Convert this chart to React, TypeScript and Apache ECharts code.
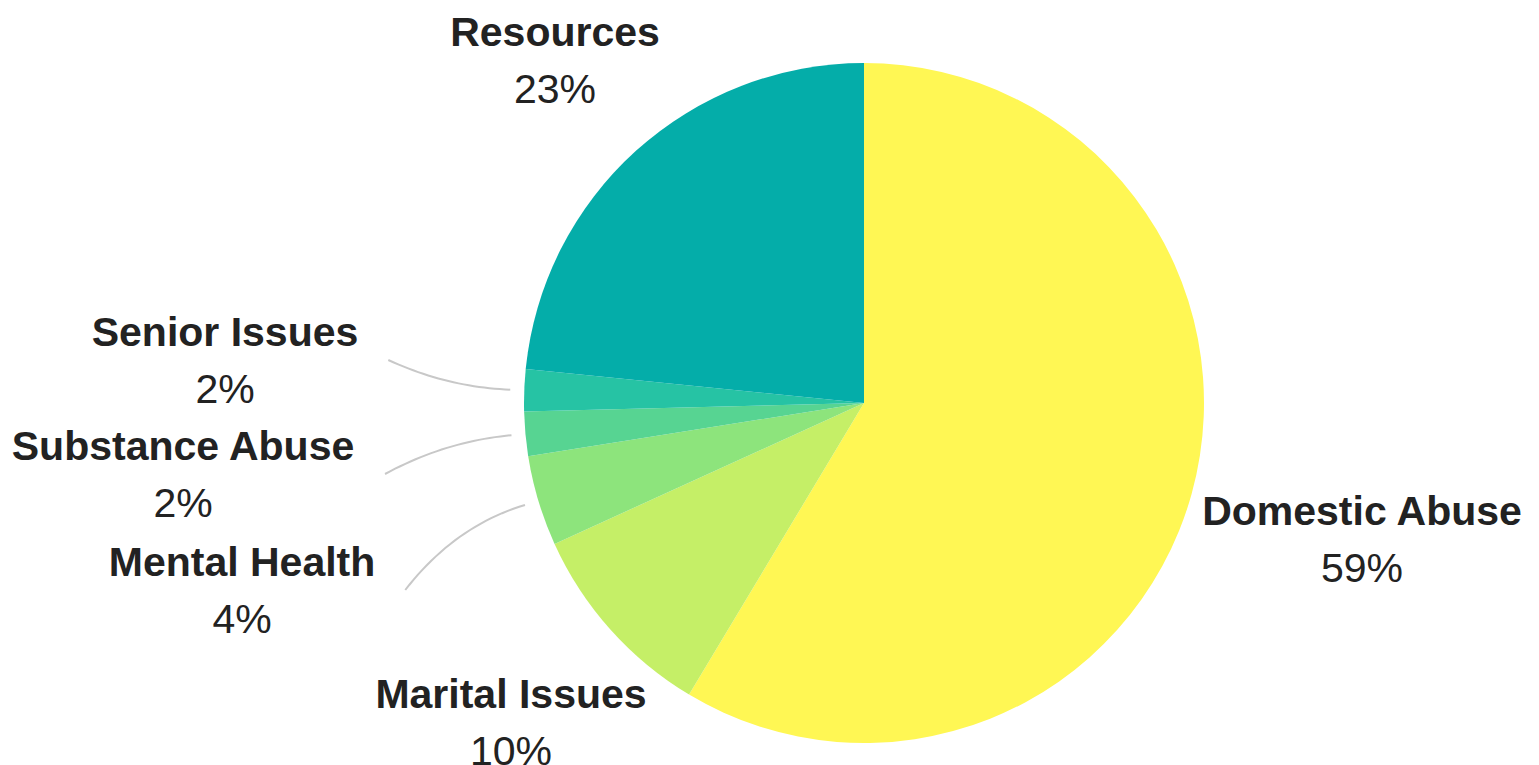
import React, { useEffect, useRef } from 'react';
import * as echarts from 'echarts';

// ---- data ----
const categories = ['Domestic Abuse', 'Marital Issues', 'Mental Health', 'Substance Abuse', 'Senior Issues', 'Resources'];
const values = [58.6, 9.6, 4.3, 2.1, 2.0, 23.4];
const colors = ['#fff754', '#c5ef67', '#8de47c', '#57d492', '#26c3a4', '#04ada9'];

// ---- layout (label block centres, px) ----
const labelCenters = [[1362, 539], [511, 722], [242, 590], [183, 474], [225, 360], [555, 60]];
const withLine = [false, false, true, true, true, false];

const CX = 864;
const CY = 403;
const R = 340;
const FONT = '"Liberation Sans", Arial, sans-serif';

function midAngle(i: number) {
  const total = values.reduce((a, b) => a + b, 0);
  let cum = 0;
  for (let k = 0; k < i; k++) cum += values[k];
  return ((cum + values[i] / 2) / total) * Math.PI * 2;
}

function curvePoints(i: number, e: number[]) {
  const a = midAngle(i);
  const dir = [Math.sin(a), -Math.cos(a)];
  const s = [CX + dir[0] * (R + 14), CY + dir[1] * (R + 14)];
  const chord = Math.hypot(e[0] - s[0], e[1] - s[1]);
  const c = [s[0] + dir[0] * chord * 0.5, s[1] + dir[1] * chord * 0.5];
  const pts: number[][] = [];
  const n = 24;
  for (let k = 0; k <= n; k++) {
    const t = k / n;
    const u = 1 - t;
    pts.push([
      u * u * s[0] + 2 * u * t * c[0] + t * t * e[0],
      u * u * s[1] + 2 * u * t * c[1] + t * t * e[1],
    ]);
  }
  return pts;
}

export default function App() {
  const ref = useRef<HTMLDivElement>(null);
  useEffect(() => {
    if (!ref.current) return;
    const chart = echarts.init(ref.current, undefined, { renderer: 'svg' });
    chart.setOption({
      animation: false,
      backgroundColor: '#ffffff',
      series: [
        {
          type: 'pie',
          center: [CX, CY],
          radius: R,
          startAngle: 90,
          clockwise: true,
          avoidLabelOverlap: false,
          percentPrecision: 0,
          emphasis: { disabled: true },
          itemStyle: { borderWidth: 0 },
          label: {
            show: true,
            position: 'outside',
            formatter: '{n|{b}}\n{p|{d}%}',
            rich: {
              n: { fontFamily: FONT, fontWeight: 'bold', fontSize: 41, lineHeight: 57, color: '#222222', align: 'center' },
              p: { fontFamily: FONT, fontWeight: 'normal', fontSize: 41, lineHeight: 57, color: '#222222', align: 'center' },
            },
          },
          labelLine: {
            show: true,
            smooth: false,
            lineStyle: { color: '#c8c8c8', width: 2 },
          },
          labelLayout: (params: any) => {
            const i = params.dataIndex;
            const [x, y] = labelCenters[i];
            const out: any = { x, y, align: 'center', verticalAlign: 'middle' };
            if (withLine[i]) {
              const e = [x + params.labelRect.width / 2 + 30, y];
              out.labelLinePoints = curvePoints(i, e);
            }
            return out;
          },
          data: categories.map((name, i) => ({
            name,
            value: values[i],
            itemStyle: { color: colors[i] },
            labelLine: { show: withLine[i] },
          })),
        },
      ],
    });
    return () => chart.dispose();
  }, []);
  return <div ref={ref} style={{ position: 'absolute', left: 0, top: 0, width: 1539, height: 765 }} />;
}
